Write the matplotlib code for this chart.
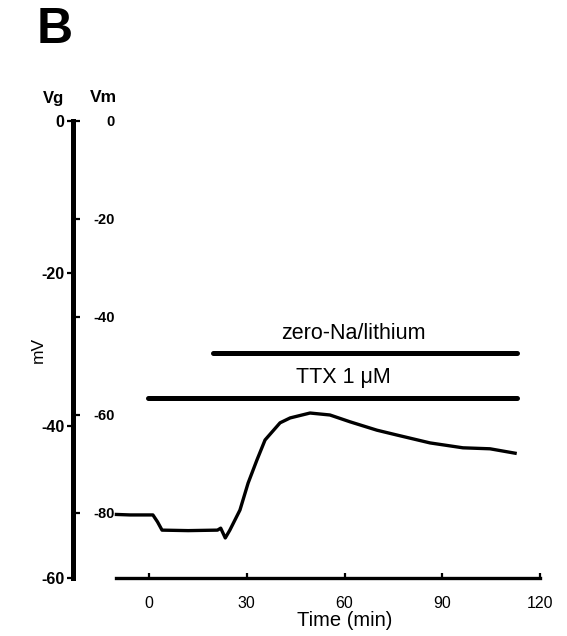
import matplotlib
matplotlib.use('Agg')
import matplotlib.pyplot as plt

plt.rcParams['font.family'] = ['Liberation Sans', 'DejaVu Sans']

# trace (Vm scale)
time_min = [-10, -5.8, 1.2, 2.6, 4, 12, 21, 22, 23.4, 24.8, 27.9, 30.4, 33.1,
            35.6, 37.7, 40.2, 43.3, 49.4, 55.5, 61.7, 69.9, 76.1, 86.2,
            96.3, 104.6, 112.3]
vm_mV = [-80.3, -80.4, -80.4, -81.8, -83.5, -83.6, -83.5, -83.1, -85.1,
         -83.5, -79.4, -73.9, -69.2, -65.1, -63.5, -61.6, -60.6, -59.6,
         -60.0, -61.4, -63.1, -64.1, -65.7, -66.7, -66.9, -67.8]

# application bars on the Vm scale, with their labels
bar_labels = ['zero-Na/lithium', 'TTX 1 \u03bcM']
bar_start = [19.6, -0.3]
bar_end = [112.9, 112.9]
bar_level = [-47.3, -56.5]
label_x = [62.6, 59.5]
label_y = [-43.3, -52.4]

vg_ticks = [0, -20, -40, -60]
vm_ticks = [0, -20, -40, -60, -80]
time_ticks = [0, 30, 60, 90, 120]

W, H = 567, 636
fig = plt.figure(figsize=(W / 100, H / 100), dpi=100)
ax = fig.add_axes([73 / W, (H - 578) / H, 472 / W, 457 / H])
ax.set_xlim(-23.31, 121.47)
ax.set_ylim(-60, 0)
for s in ['top', 'right']:
    ax.spines[s].set_visible(False)
ax.spines['left'].set_linewidth(3.6)
ax.spines['left'].set_bounds(-60, 0)
ax.spines['bottom'].set_linewidth(2.4)
ax.spines['bottom'].set_bounds(-10, 120)
ax.set_yticks(vg_ticks)
ax.set_yticklabels([str(v) for v in vg_ticks])
ax.tick_params(axis='y', direction='out', length=4.5, width=1.6, pad=1.5,
               labelsize=11.5)
ax.set_xticks(time_ticks)
ax.set_xticklabels([str(v) for v in time_ticks])
ax.tick_params(axis='x', direction='in', length=3.5, width=1.6, pad=13,
               labelsize=11.5)
plt.setp(ax.get_yticklabels(), fontweight='bold')

ax2 = ax.twinx()
ax2.set_ylim(-93.27, 0)
for s in ax2.spines.values():
    s.set_visible(False)
ax2.spines['right'].set_position(('axes', 0))
ax2.set_yticks(vm_ticks)
ax2.set_yticklabels([str(v) for v in vm_ticks])
ax2.tick_params(axis='y', direction='out', length=5, width=1.6, pad=25,
                labelsize=10.5)
plt.setp(ax2.get_yticklabels(), ha='right', fontweight='bold')

ax2.plot(time_min, vm_mV, color='black', lw=2.4, clip_on=False,
         solid_joinstyle='round')
for lab, x0, x1, lv, tx, ty in zip(bar_labels, bar_start, bar_end,
                                   bar_level, label_x, label_y):
    ax2.plot([x0, x1], [lv, lv], color='black', lw=3.6,
             solid_capstyle='round', clip_on=False)
    ax2.text(tx, ty, lab, ha='center', va='center', fontsize=15.5)

fig.text(55 / W, 1 - 30 / H, 'B', fontsize=36, fontweight='heavy',
         ha='center', va='center')
fig.text(54 / W, 1 - 98 / H, 'Vg', fontsize=12, fontweight='bold',
         ha='center', va='center')
fig.text(103 / W, 1 - 98 / H, 'Vm', fontsize=12.5, fontweight='bold',
         ha='center', va='center')
fig.text(38 / W, 1 - 350 / H, 'mV', fontsize=12.5, rotation=90,
         ha='center', va='center')
fig.text(345 / W, 1 - 620 / H, 'Time (min)', fontsize=14.5,
         ha='center', va='center')

fig.savefig('out.png', dpi=100)
